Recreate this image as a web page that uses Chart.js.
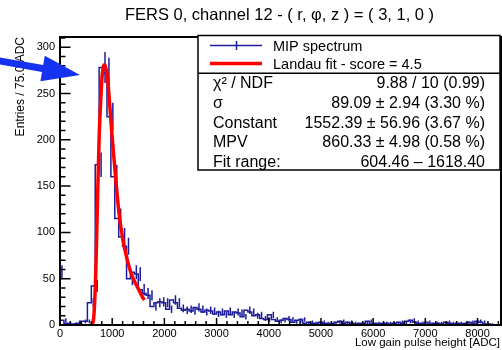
<!DOCTYPE html>
<html>
<head>
<meta charset="utf-8">
<script src="https://cdn.jsdelivr.net/npm/chart.js@4/dist/chart.umd.min.js"></script>
<style>
  html, body { margin: 0; padding: 0; background: #fff; }
  #wrap { width: 502px; height: 350px; }
</style>
</head>
<body>
<div id="wrap"><canvas id="myChart" width="502" height="350"></canvas></div>
<script>
// histogram: 75 ADC bins starting at 0
const binWidth = 75;
const counts = [
  57, 5, 2, 1, 1, 2, 4, 4, 24, 42,
  173, 278, 272, 225, 160, 115, 95, 85, 50, 57,
  55, 38, 34, 32, 20, 24, 25, 24, 17, 27,
  24, 18, 16, 17, 15, 19, 17, 14, 16, 15,
  12, 14, 11, 15, 11, 14, 13, 9, 16, 14,
  10, 11, 7, 6, 11, 6, 4, 5, 7, 6,
  3, 5, 6, 2, 3, 2, 2, 3, 2, 1,
  2, 3, 4, 2, 3, 2, 1, 2, 2, 4,
  1, 2, 1, 2, 2, 1, 2, 3, 2, 4,
  5, 3, 2, 1, 3, 1, 2, 2, 1, 3,
  2, 1, 2, 1, 2, 3, 2, 4, 3, 1,
  1, 0, 0
];

// Landau fit curve
const fitX = [604, 633, 652, 685, 716, 749, 781, 812, 858, 908, 940, 1004, 1069, 1132, 1196, 1260, 1324, 1388, 1484, 1580, 1618];
const fitY = [0, 3, 12, 56, 128, 200, 243, 272, 281, 268, 247, 200, 157, 120, 95, 77, 63, 52, 41, 30, 27];

// axis tick labels
const xTickValues = [0, 1000, 2000, 3000, 4000, 5000, 6000, 7000, 8000];
const yTickValues = [0, 50, 100, 150, 200, 250, 300];

const titleText = "FERS 0, channel 12 - ( r, \u03C6, z ) = ( 3, 1, 0 )";
const legendLabels = ["MIP spectrum", "Landau fit - score = 4.5"];
const statNames = ["\u03C7\u00B2 / NDF", "\u03C3", "Constant", "MPV", "Fit range:"];
const statValues = ["9.88 / 10 (0.99)", "89.09 \u00B1 2.94 (3.30 %)", "1552.39 \u00B1 56.96 (3.67 %)", "860.33 \u00B1 4.98 (0.58 %)", "604.46 \u2013 1618.40"];

const xMax = 8450;
const yMax = 311;
const FONT = "'Liberation Sans', Arial, sans-serif";
const HIST_COLOR = "#1c1c9c";
const FIT_COLOR = "#ff0000";

const histPoints = counts.map((c, i) => ({ x: i * binWidth, y: c }));
histPoints.push({ x: counts.length * binWidth, y: counts[counts.length - 1] });
const fitPoints = fitX.map((x, i) => ({ x: x, y: fitY[i] }));

// error bars, frame, ticks and ROOT-style text boxes
const rootStyle = {
  id: "rootStyle",
  afterDatasetDraw(chart, args) {
    if (args.index !== 1) return;
    const { ctx, chartArea: a, scales: { x, y } } = chart;
    ctx.save();
    ctx.beginPath();
    ctx.rect(a.left, a.top, a.right - a.left, a.bottom - a.top);
    ctx.clip();
    ctx.strokeStyle = HIST_COLOR;
    ctx.lineWidth = 1.5;
    ctx.beginPath();
    counts.forEach((c, i) => {
      if (c <= 0) return;
      const e = Math.sqrt(c);
      const px = x.getPixelForValue(i * binWidth + binWidth / 2);
      ctx.moveTo(px, y.getPixelForValue(c - e));
      ctx.lineTo(px, y.getPixelForValue(c + e));
    });
    ctx.stroke();
    ctx.restore();
  },
  afterDraw(chart) {
    const { ctx, chartArea: a, scales: { x, y } } = chart;
    ctx.save();

    // frame
    ctx.strokeStyle = "#000";
    ctx.lineWidth = 2;
    ctx.strokeRect(a.left, a.top, a.right - a.left, a.bottom - a.top);

    // ticks
    ctx.lineWidth = 1.5;
    ctx.beginPath();
    for (let v = 0; v <= yMax; v += 10) {
      const py = y.getPixelForValue(v);
      const len = v % 50 === 0 ? 10.5 : 5.5;
      ctx.moveTo(a.left, py);
      ctx.lineTo(a.left + len, py);
    }
    for (let v = 0; v <= xMax; v += 200) {
      const px = x.getPixelForValue(v);
      const len = v % 1000 === 0 ? 7 : 4;
      ctx.moveTo(px, a.bottom);
      ctx.lineTo(px, a.bottom - len);
    }
    ctx.stroke();

    // title
    ctx.fillStyle = "#000";
    ctx.font = "16.5px " + FONT;
    ctx.textAlign = "center";
    ctx.textBaseline = "alphabetic";
    ctx.fillText(titleText, 279.5, 20);

    // axis titles
    ctx.font = "11.5px " + FONT;
    ctx.textAlign = "right";
    ctx.fillText("Low gain pulse height [ADC]", 500, 346);
    ctx.save();
    ctx.translate(24, 37);
    ctx.rotate(-Math.PI / 2);
    ctx.font = "12px " + FONT;
    ctx.textAlign = "right";
    ctx.fillText("Entries / 75.0 ADC", 0, 0);
    ctx.restore();

    // legend + stats box
    const bx = 198, by = 35.5, bw = 302, bh = 134.5;
    ctx.fillStyle = "#fff";
    ctx.fillRect(bx, by, bw, bh);
    ctx.strokeStyle = "#000";
    ctx.lineWidth = 1.5;
    ctx.strokeRect(bx, by, bw, bh);
    ctx.beginPath();
    ctx.moveTo(bx, 73.3);
    ctx.lineTo(bx + bw, 73.3);
    ctx.stroke();

    ctx.strokeStyle = HIST_COLOR;
    ctx.lineWidth = 1.5;
    ctx.beginPath();
    ctx.moveTo(210, 45.5); ctx.lineTo(262, 45.5);
    ctx.moveTo(236.5, 41); ctx.lineTo(236.5, 50);
    ctx.stroke();
    ctx.strokeStyle = FIT_COLOR;
    ctx.lineWidth = 3.5;
    ctx.beginPath();
    ctx.moveTo(210, 63.5); ctx.lineTo(262, 63.5);
    ctx.stroke();

    ctx.fillStyle = "#000";
    ctx.font = "14.5px " + FONT;
    ctx.textAlign = "left";
    ctx.fillText(legendLabels[0], 273, 50.5);
    ctx.fillText(legendLabels[1], 273, 68.5);

    ctx.font = "16px " + FONT;
    statNames.forEach((name, i) => {
      const base = 88 + 19.75 * i;
      ctx.textAlign = "left";
      ctx.fillText(name, 213, base);
      ctx.textAlign = "right";
      ctx.fillText(statValues[i], 485, base);
    });

    // blue arrow annotation
    ctx.fillStyle = "rgb(20, 50, 240)";
    ctx.beginPath();
    ctx.moveTo(0, 57.4);
    ctx.lineTo(43.2, 65);
    ctx.lineTo(44.8, 55.7);
    ctx.lineTo(80, 75);
    ctx.lineTo(40.4, 81.3);
    ctx.lineTo(42, 71.9);
    ctx.lineTo(0, 64.6);
    ctx.closePath();
    ctx.fill();

    ctx.restore();
  }
};

const chart = new Chart(document.getElementById("myChart"), {
  type: "line",
  data: {
    datasets: [
      {
        label: "Landau fit",
        data: fitPoints,
        borderColor: FIT_COLOR,
        borderWidth: 3.5,
        pointRadius: 0,
        fill: false,
        cubicInterpolationMode: "monotone"
      },
      {
        label: "MIP spectrum",
        data: histPoints,
        borderColor: HIST_COLOR,
        borderWidth: 1.5,
        pointRadius: 0,
        fill: false,
        stepped: "after"
      }
    ]
  },
  options: {
    responsive: false,
    devicePixelRatio: 1,
    animation: false,
    layout: { padding: { top: 37, right: 1, bottom: 0, left: 0 } },
    plugins: {
      legend: { display: false },
      title: { display: false },
      tooltip: { enabled: false }
    },
    scales: {
      x: {
        type: "linear",
        min: 0,
        max: xMax,
        afterBuildTicks: s => { s.ticks = xTickValues.map(v => ({ value: v })); },
        ticks: {
          maxRotation: 0,
          autoSkip: false,
          padding: 2,
          color: "#000",
          font: { family: FONT, size: 11 },
          callback: v => String(v)
        },
        grid: { display: false, drawTicks: false },
        border: { display: false },
        afterFit: s => { s.height = 25; }
      },
      y: {
        type: "linear",
        min: 0,
        max: yMax,
        afterBuildTicks: s => { s.ticks = yTickValues.map(v => ({ value: v })); },
        ticks: {
          padding: 5,
          color: "#000",
          font: { family: FONT, size: 11 },
          callback: v => String(v)
        },
        grid: { display: false, drawTicks: false },
        border: { display: false },
        afterFit: s => { s.width = 60; }
      }
    }
  },
  plugins: [rootStyle]
});
</script>
</body>
</html>
